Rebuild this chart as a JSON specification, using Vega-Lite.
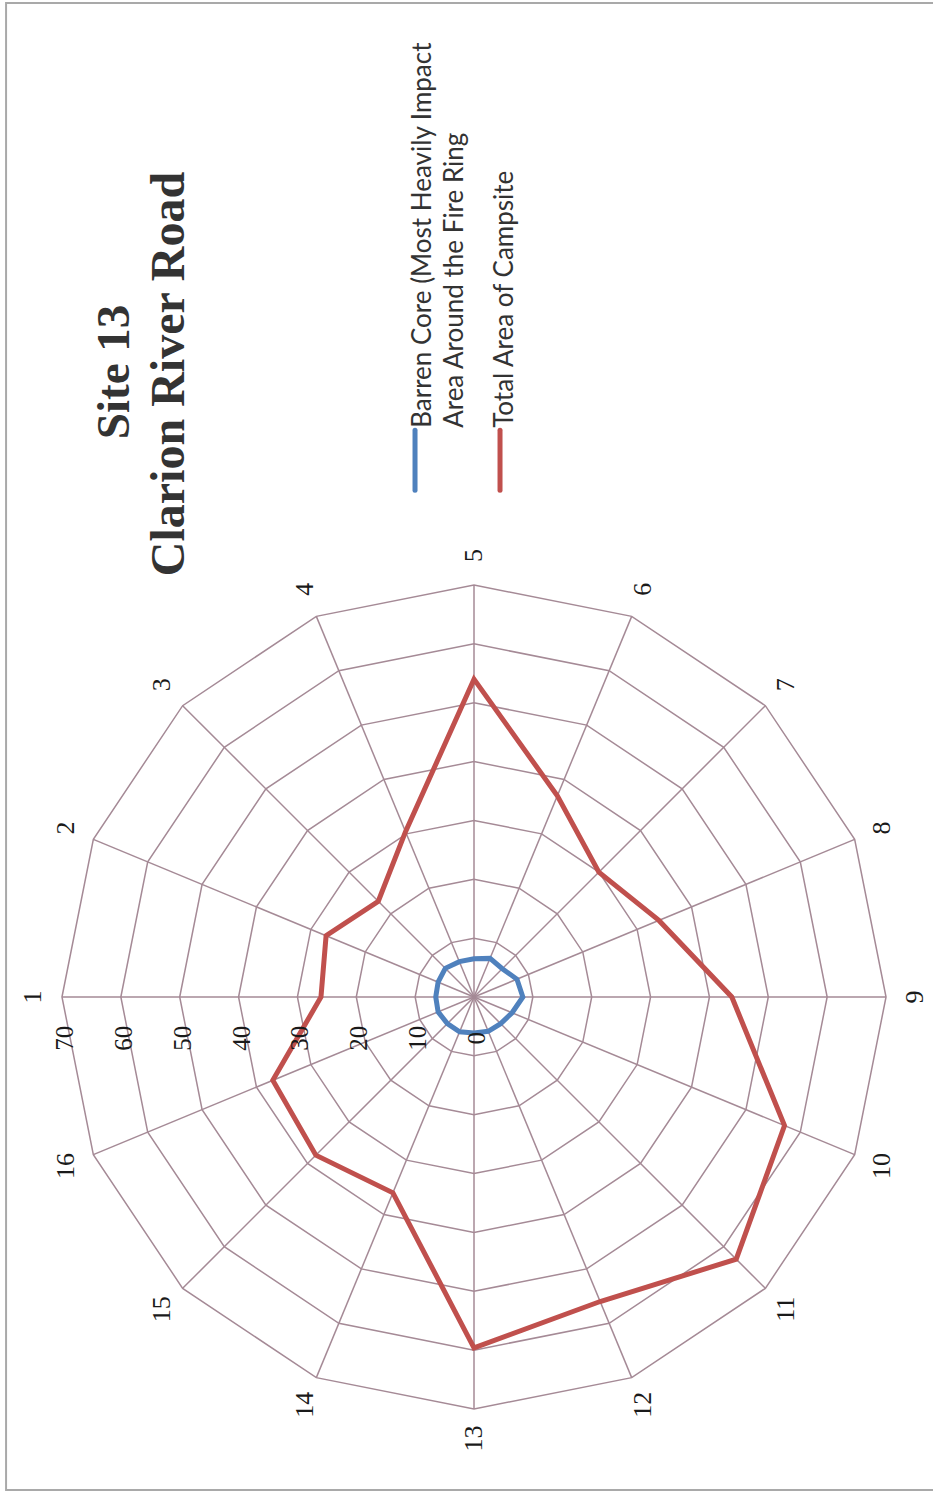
{
  "$schema": "https://vega.github.io/schema/vega-lite/v6.json",
  "width": 933,
  "height": 1492,
  "padding": 0,
  "autosize": {"type": "none"},
  "background": "white",
  "config": {"view": {"stroke": null}},
  "datasets": {
    "axes": [
      {"axis": 1, "rings": [10, 20, 30, 40, 50, 60, 70]},
      {"axis": 2, "rings": [10, 20, 30, 40, 50, 60, 70]},
      {"axis": 3, "rings": [10, 20, 30, 40, 50, 60, 70]},
      {"axis": 4, "rings": [10, 20, 30, 40, 50, 60, 70]},
      {"axis": 5, "rings": [10, 20, 30, 40, 50, 60, 70]},
      {"axis": 6, "rings": [10, 20, 30, 40, 50, 60, 70]},
      {"axis": 7, "rings": [10, 20, 30, 40, 50, 60, 70]},
      {"axis": 8, "rings": [10, 20, 30, 40, 50, 60, 70]},
      {"axis": 9, "rings": [10, 20, 30, 40, 50, 60, 70]},
      {"axis": 10, "rings": [10, 20, 30, 40, 50, 60, 70]},
      {"axis": 11, "rings": [10, 20, 30, 40, 50, 60, 70]},
      {"axis": 12, "rings": [10, 20, 30, 40, 50, 60, 70]},
      {"axis": 13, "rings": [10, 20, 30, 40, 50, 60, 70]},
      {"axis": 14, "rings": [10, 20, 30, 40, 50, 60, 70]},
      {"axis": 15, "rings": [10, 20, 30, 40, 50, 60, 70]},
      {"axis": 16, "rings": [10, 20, 30, 40, 50, 60, 70]}
    ],
    "series": [
      {"axis": 1, "series": "Barren Core", "value": 6.5},
      {"axis": 2, "series": "Barren Core", "value": 6.6},
      {"axis": 3, "series": "Barren Core", "value": 6.9},
      {"axis": 4, "series": "Barren Core", "value": 6.5},
      {"axis": 5, "series": "Barren Core", "value": 6.5},
      {"axis": 6, "series": "Barren Core", "value": 7.1},
      {"axis": 7, "series": "Barren Core", "value": 6.8},
      {"axis": 8, "series": "Barren Core", "value": 7.9},
      {"axis": 9, "series": "Barren Core", "value": 8.3},
      {"axis": 10, "series": "Barren Core", "value": 7.0},
      {"axis": 11, "series": "Barren Core", "value": 6.4},
      {"axis": 12, "series": "Barren Core", "value": 6.3},
      {"axis": 13, "series": "Barren Core", "value": 6.1},
      {"axis": 14, "series": "Barren Core", "value": 6.4},
      {"axis": 15, "series": "Barren Core", "value": 6.4},
      {"axis": 16, "series": "Barren Core", "value": 6.6},
      {"axis": 1, "series": "Total Area of Campsite", "value": 26},
      {"axis": 2, "series": "Total Area of Campsite", "value": 27.2},
      {"axis": 3, "series": "Total Area of Campsite", "value": 23},
      {"axis": 4, "series": "Total Area of Campsite", "value": 30.4},
      {"axis": 5, "series": "Total Area of Campsite", "value": 54},
      {"axis": 6, "series": "Total Area of Campsite", "value": 37},
      {"axis": 7, "series": "Total Area of Campsite", "value": 30},
      {"axis": 8, "series": "Total Area of Campsite", "value": 34},
      {"axis": 9, "series": "Total Area of Campsite", "value": 43.8},
      {"axis": 10, "series": "Total Area of Campsite", "value": 57.1},
      {"axis": 11, "series": "Total Area of Campsite", "value": 63},
      {"axis": 12, "series": "Total Area of Campsite", "value": 56},
      {"axis": 13, "series": "Total Area of Campsite", "value": 59.6},
      {"axis": 14, "series": "Total Area of Campsite", "value": 36},
      {"axis": 15, "series": "Total Area of Campsite", "value": 38},
      {"axis": 16, "series": "Total Area of Campsite", "value": 37}
    ],
    "ringlabels": [
      {"ring": 0}, {"ring": 10}, {"ring": 20}, {"ring": 30},
      {"ring": 40}, {"ring": 50}, {"ring": 60}, {"ring": 70}
    ],
    "one": [{"k": 1}]
  },
  "layer": [
    {
      "data": {"name": "one"},
      "mark": {"type": "rect", "fill": null, "stroke": "#a9a9a9", "strokeWidth": 2},
      "encoding": {
        "x": {"datum": -79.5, "type": "quantitative", "scale": {"domain": [-80.53, 77.98], "nice": false, "zero": false}, "axis": null},
        "x2": {"datum": 85},
        "y": {"datum": 168.88, "type": "quantitative", "scale": {"domain": [-84.10, 169.39], "nice": false, "zero": false}, "axis": null},
        "y2": {"datum": -83.76}
      }
    },
    {
      "data": {"name": "axes"},
      "transform": [
        {"flatten": ["rings"], "as": ["ring"]},
        {"calculate": "(datum.axis - 1) * PI / 8", "as": "phi"},
        {"calculate": "-cos(datum.phi) * datum.ring", "as": "px"},
        {"calculate": "sin(datum.phi) * datum.ring", "as": "py"}
      ],
      "mark": {"type": "line", "interpolate": "linear-closed", "stroke": "#a58a96", "strokeWidth": 1.5},
      "encoding": {
        "x": {"field": "px", "type": "quantitative", "scale": {"domain": [-80.53, 77.98], "nice": false, "zero": false}, "axis": null},
        "y": {"field": "py", "type": "quantitative", "scale": {"domain": [-84.10, 169.39], "nice": false, "zero": false}, "axis": null},
        "detail": {"field": "ring", "type": "nominal"},
        "order": {"field": "axis", "type": "quantitative"}
      }
    },
    {
      "data": {"name": "axes"},
      "transform": [
        {"calculate": "(datum.axis - 1) * PI / 8", "as": "phi"},
        {"calculate": "-cos(datum.phi) * 70", "as": "px"},
        {"calculate": "sin(datum.phi) * 70", "as": "py"}
      ],
      "mark": {"type": "rule", "stroke": "#a58a96", "strokeWidth": 1.5},
      "encoding": {
        "x": {"field": "px", "type": "quantitative", "scale": {"domain": [-80.53, 77.98], "nice": false, "zero": false}, "axis": null},
        "y": {"field": "py", "type": "quantitative", "scale": {"domain": [-84.10, 169.39], "nice": false, "zero": false}, "axis": null},
        "x2": {"datum": 0},
        "y2": {"datum": 0}
      }
    },
    {
      "data": {"name": "series"},
      "transform": [
        {"calculate": "(datum.axis - 1) * PI / 8", "as": "phi"},
        {"calculate": "-cos(datum.phi) * datum.value", "as": "px"},
        {"calculate": "sin(datum.phi) * datum.value", "as": "py"}
      ],
      "mark": {"type": "line", "interpolate": "linear-closed", "strokeWidth": 5, "strokeJoin": "miter"},
      "encoding": {
        "x": {"field": "px", "type": "quantitative", "scale": {"domain": [-80.53, 77.98], "nice": false, "zero": false}, "axis": null},
        "y": {"field": "py", "type": "quantitative", "scale": {"domain": [-84.10, 169.39], "nice": false, "zero": false}, "axis": null},
        "color": {"field": "series", "type": "nominal", "scale": {"domain": ["Barren Core", "Total Area of Campsite"], "range": ["#4f81bd", "#c0504d"]}, "legend": null},
        "order": {"field": "axis", "type": "quantitative"}
      }
    },
    {
      "data": {"name": "axes"},
      "transform": [
        {"calculate": "(datum.axis - 1) * PI / 8", "as": "phi"},
        {"calculate": "-cos(datum.phi) * 75", "as": "px"},
        {"calculate": "sin(datum.phi) * 75", "as": "py"}
      ],
      "mark": {"type": "text", "angle": 270, "font": "Liberation Serif", "fontSize": 26, "color": "#1a1a1a", "align": "center", "baseline": "middle"},
      "encoding": {
        "x": {"field": "px", "type": "quantitative", "scale": {"domain": [-80.53, 77.98], "nice": false, "zero": false}, "axis": null},
        "y": {"field": "py", "type": "quantitative", "scale": {"domain": [-84.10, 169.39], "nice": false, "zero": false}, "axis": null},
        "text": {"field": "axis", "type": "nominal"}
      }
    },
    {
      "data": {"name": "ringlabels"},
      "transform": [
        {"calculate": "0.5 - datum.ring", "as": "px"}
      ],
      "mark": {"type": "text", "angle": 270, "font": "Liberation Serif", "fontSize": 25, "color": "#1a1a1a", "align": "center", "baseline": "middle"},
      "encoding": {
        "x": {"field": "px", "type": "quantitative", "scale": {"domain": [-80.53, 77.98], "nice": false, "zero": false}, "axis": null},
        "y": {"datum": -7, "type": "quantitative", "scale": {"domain": [-84.10, 169.39], "nice": false, "zero": false}, "axis": null},
        "text": {"field": "ring", "type": "nominal"}
      }
    },
    {
      "data": {"name": "one"},
      "mark": {"type": "text", "angle": 270, "font": "Liberation Serif", "fontWeight": "bold", "fontSize": 47, "color": "#333333", "align": "center", "baseline": "middle", "text": "Site 13"},
      "encoding": {
        "x": {"datum": -61.0, "type": "quantitative", "scale": {"domain": [-80.53, 77.98], "nice": false, "zero": false}, "axis": null},
        "y": {"datum": 106.2, "type": "quantitative", "scale": {"domain": [-84.10, 169.39], "nice": false, "zero": false}, "axis": null}
      }
    },
    {
      "data": {"name": "one"},
      "mark": {"type": "text", "angle": 270, "font": "Liberation Serif", "fontWeight": "bold", "fontSize": 48, "color": "#333333", "align": "center", "baseline": "middle", "text": "Clarion River Road"},
      "encoding": {
        "x": {"datum": -51.65, "type": "quantitative", "scale": {"domain": [-80.53, 77.98], "nice": false, "zero": false}, "axis": null},
        "y": {"datum": 105.85, "type": "quantitative", "scale": {"domain": [-84.10, 169.39], "nice": false, "zero": false}, "axis": null}
      }
    },
    {
      "data": {"name": "one"},
      "mark": {"type": "rule", "stroke": "#4f81bd", "strokeWidth": 5, "strokeCap": "round"},
      "encoding": {
        "x": {"datum": -10.02, "type": "quantitative", "scale": {"domain": [-80.53, 77.98], "nice": false, "zero": false}, "axis": null},
        "y": {"datum": 96.3, "type": "quantitative", "scale": {"domain": [-84.10, 169.39], "nice": false, "zero": false}, "axis": null},
        "y2": {"datum": 86.1}
      }
    },
    {
      "data": {"name": "one"},
      "mark": {"type": "rule", "stroke": "#c0504d", "strokeWidth": 5, "strokeCap": "round"},
      "encoding": {
        "x": {"datum": 4.42, "type": "quantitative", "scale": {"domain": [-80.53, 77.98], "nice": false, "zero": false}, "axis": null},
        "y": {"datum": 96.3, "type": "quantitative", "scale": {"domain": [-84.10, 169.39], "nice": false, "zero": false}, "axis": null},
        "y2": {"datum": 86.1}
      }
    },
    {
      "data": {"name": "one"},
      "mark": {"type": "text", "angle": 270, "font": "Lato", "fontSize": 26, "color": "#333333", "align": "left", "baseline": "middle", "text": "Barren Core (Most Heavily Impact"},
      "encoding": {
        "x": {"datum": -8.66, "type": "quantitative", "scale": {"domain": [-80.53, 77.98], "nice": false, "zero": false}, "axis": null},
        "y": {"datum": 96.7, "type": "quantitative", "scale": {"domain": [-84.10, 169.39], "nice": false, "zero": false}, "axis": null}
      }
    },
    {
      "data": {"name": "one"},
      "mark": {"type": "text", "angle": 270, "font": "Lato", "fontSize": 26, "color": "#333333", "align": "left", "baseline": "middle", "text": "Area Around the Fire Ring"},
      "encoding": {
        "x": {"datum": -3.23, "type": "quantitative", "scale": {"domain": [-80.53, 77.98], "nice": false, "zero": false}, "axis": null},
        "y": {"datum": 96.7, "type": "quantitative", "scale": {"domain": [-84.10, 169.39], "nice": false, "zero": false}, "axis": null}
      }
    },
    {
      "data": {"name": "one"},
      "mark": {"type": "text", "angle": 270, "font": "Lato", "fontSize": 26, "color": "#333333", "align": "left", "baseline": "middle", "text": "Total Area of Campsite"},
      "encoding": {
        "x": {"datum": 5.27, "type": "quantitative", "scale": {"domain": [-80.53, 77.98], "nice": false, "zero": false}, "axis": null},
        "y": {"datum": 96.7, "type": "quantitative", "scale": {"domain": [-84.10, 169.39], "nice": false, "zero": false}, "axis": null}
      }
    }
  ]
}
